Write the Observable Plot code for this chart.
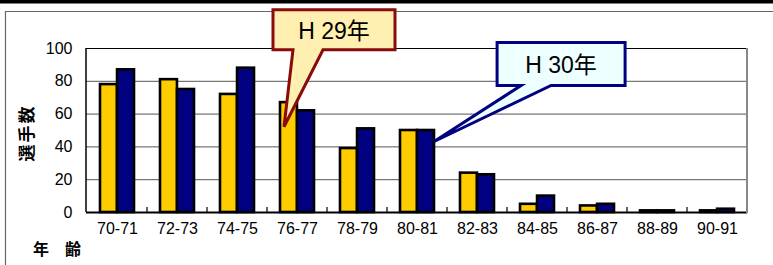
<!DOCTYPE html>
<html>
<head>
<meta charset="utf-8">
<script src="https://cdn.jsdelivr.net/npm/d3@7"></script>
<script src="https://cdn.jsdelivr.net/npm/@observablehq/plot@0.6"></script>
<style>
  html, body { margin: 0; padding: 0; background: #fff; }
  #chart svg { display: block; }
</style>
</head>
<body>
<div id="chart"></div>
<script>
// ---- data ----
const categories = ["70-71","72-73","74-75","76-77","78-79","80-81","82-83","84-85","86-87","88-89","90-91"];
const h29 = [78, 81, 72, 67, 39, 50, 24, 5, 4, 1, 1];
const h30 = [87, 75, 88, 62, 51, 50, 23, 10, 5, 1, 2];
const seriesNames = ["H 29年", "H 30年"];
const yTicks = [0, 20, 40, 60, 80, 100];
const gridTicks = [20, 40, 60, 80];
const yLabel = "選手数";
const xLabel = "年　齢";
// callout anchors (category, value) for each series
const calloutCategory = ["76-77", "80-81"];
const calloutValue = [52, 43];

const rows29 = categories.map((c, i) => ({cat: c, v: h29[i]}));
const rows30 = categories.map((c, i) => ({cat: c, v: h30[i]}));

const W = 773, H = 265;
const bw = (W - 86 - 26) / categories.length; // band width for insets
const half = bw / 2;
const edge = 13;

const font = '"Liberation Sans", Arial, "Noto Sans CJK JP", sans-serif';

const plot = Plot.plot({
  width: W,
  height: H,
  marginLeft: 86,
  marginRight: 26,
  marginTop: 48,
  marginBottom: 53,
  style: {fontFamily: font, background: "#fff", overflow: "visible"},
  x: {type: "band", domain: categories, padding: 0, label: null},
  y: {domain: [0, 100], label: null},
  marks: [
    Plot.gridY(gridTicks, {stroke: "#555", strokeOpacity: 1, strokeWidth: 1}),
    Plot.ruleY([100], {stroke: "#000", strokeWidth: 1}),
    Plot.barY(rows29, {x: "cat", y: "v", fill: "#FFCC00", stroke: "#000", strokeWidth: 2.6,
      insetLeft: edge, insetRight: half}),
    Plot.barY(rows30, {x: "cat", y: "v", fill: "#000080", stroke: "#000", strokeWidth: 2.6,
      insetLeft: half, insetRight: edge}),
    Plot.ruleY([0], {stroke: "#000", strokeWidth: 2}),
    Plot.axisY({ticks: yTicks, tickSize: 0, tickPadding: 14, fontSize: 16, label: null, fill: "#000"}),
    Plot.axisX({tickSize: 0, tickPadding: 10, fontSize: 16, label: null, fill: "#000"})
  ]
});

document.getElementById("chart").appendChild(plot);

const sx = plot.scale("x");
const sy = plot.scale("y");
const svg = d3.select(plot);
const x0 = sx.range[0], x1 = sx.range[1];
const yTop = sy.apply(100), yBot = sy.apply(0);

// outer decoration
svg.insert("rect", ":first-child").attr("x", 0).attr("y", 0).attr("width", W).attr("height", 3.5).attr("fill", "#000");
svg.append("path").attr("d", `M${W},11.5H5.5V${H}`).attr("fill", "none").attr("stroke", "#666").attr("stroke-width", 1.2);

// plot frame: left black, right grey
svg.append("line").attr("x1", x0).attr("x2", x0).attr("y1", yTop).attr("y2", yBot).attr("stroke", "#000").attr("stroke-width", 1.5);
svg.append("line").attr("x1", x1).attr("x2", x1).attr("y1", yTop).attr("y2", yBot + 1).attr("stroke", "#888").attr("stroke-width", 2);

// inward ticks on the category boundaries
categories.slice(1).forEach(c => {
  const x = sx.apply(c);
  svg.append("line").attr("x1", x).attr("x2", x).attr("y1", yBot).attr("y2", yBot - 5).attr("stroke", "#000").attr("stroke-width", 1.2);
});

// axis titles
svg.append("text").attr("transform", `translate(27,133) rotate(-90)`)
  .attr("text-anchor", "middle").attr("dominant-baseline", "central")
  .attr("font-size", 17).attr("font-weight", "bold").attr("font-family", font)
  .attr("letter-spacing", 2).text(yLabel);
svg.append("text").attr("x", 33).attr("y", 255).attr("text-anchor", "start")
  .attr("font-size", 16).attr("font-weight", "bold").attr("font-family", font)
  .text(xLabel);

// callouts anchored to data
const callouts = [
  {tipX: sx.apply(calloutCategory[0]) + edge + 4, tipY: sy.apply(calloutValue[0]),
   left: -11, top: -117, w: 122, h: 40, b0: 9, b1: 39, stroke: "#8B0A0A", fill: "#FFEFB0", text: seriesNames[0]},
  {tipX: sx.apply(calloutCategory[1]) + bw - edge, tipY: sy.apply(calloutValue[1]),
   left: 63, top: -99, w: 128, h: 43, b0: 87, b1: 117, stroke: "#000080", fill: "#EDFFFF", text: seriesNames[1]}
];
callouts.forEach(c => {
  const L = c.tipX + c.left, T = c.tipY + c.top, R = L + c.w, B = T + c.h;
  const bl = c.tipX + c.b0, br = c.tipX + c.b1;
  svg.append("path")
    .attr("d", `M${L},${T}H${R}V${B}H${br}L${c.tipX},${c.tipY}L${bl},${B}H${L}Z`)
    .attr("fill", c.fill).attr("stroke", c.stroke).attr("stroke-width", 3).attr("stroke-linejoin", "miter");
  svg.append("text").attr("x", (L + R) / 2).attr("y", (T + B) / 2 + 1)
    .attr("text-anchor", "middle").attr("dominant-baseline", "central")
    .attr("font-size", 23).attr("font-family", font).attr("fill", "#000")
    .text(c.text);
});
</script>
</body>
</html>
